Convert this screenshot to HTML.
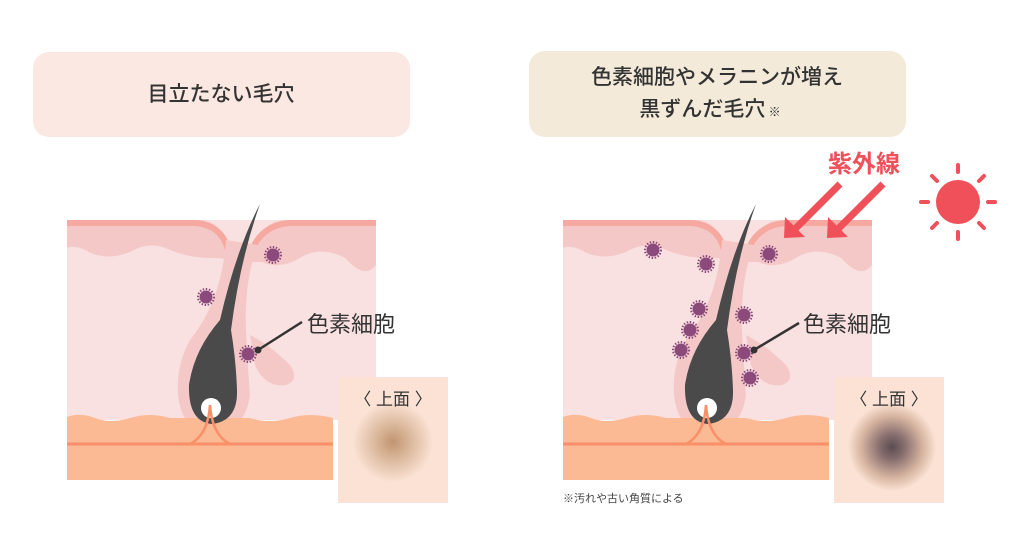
<!DOCTYPE html>
<html><head><meta charset="utf-8"><style>
html,body{margin:0;padding:0;background:#fff;width:1024px;height:534px;overflow:hidden}
svg text{font-family:"Liberation Sans","Noto Sans CJK JP",sans-serif}
</style></head><body>
<svg width="1024" height="534" viewBox="0 0 1024 534" xmlns="http://www.w3.org/2000/svg">
<defs>
<radialGradient id="g1"><stop offset="0" stop-color="#c29470"/><stop offset="0.4" stop-color="#d8b598"/><stop offset="1" stop-color="#fbe2d4"/></radialGradient>
<radialGradient id="g2"><stop offset="0" stop-color="#5a4c50"/><stop offset="0.3" stop-color="#8a7070"/><stop offset="0.7" stop-color="#d6b4a0"/><stop offset="1" stop-color="#fbe2d4"/></radialGradient>
<g id="cell"><circle r="6.5" fill="#8c4a7c"/><circle r="8" fill="none" stroke="#8c4a7c" stroke-width="2" stroke-dasharray="1.5 1.6"/></g>
<g id="skin">
<rect x="67" y="220" width="309" height="200" fill="#f9e1e1"/>
<path d="M67,220 L200,220 Q222,222 226,245 L256,245 Q262,222 285,220 L376,220 L376,265 Q365,280 345,258 Q320,245 300,258 Q280,270 262,262 L245,262 Q230,258 210,258 Q190,258 170,250 Q150,240 130,252 Q105,262 85,250 Q75,245 67,248 Z" fill="#f5c8c8"/>
<path d="M67,223 L195,223 Q222,225 228,250" fill="none" stroke="#f5a9a0" stroke-width="6"/>
<path d="M252,250 Q262,225 290,223 L376,223" fill="none" stroke="#f5a9a0" stroke-width="6"/>
<path d="M226,240 Q222,300 190,340 Q176,365 178,395 Q182,432 212,433 Q245,432 250,395 Q248,370 246,330 Q244,280 258,245 Z" fill="#f5c8c8"/>
<path d="M250,335 Q270,345 290,365 Q300,380 286,385 Q265,388 255,365 Z" fill="#f5c8c8"/>
<path d="M67,417 Q80,412 95,418 Q110,424 130,418 Q150,412 170,418 L250,418 Q270,424 290,418 Q310,412 333,418 L333,480 L67,480 Z" fill="#fbb994"/>
<line x1="67" y1="444" x2="333" y2="444" stroke="#f9906a" stroke-width="3"/>
<path d="M260,204 Q236,250 220,320 Q194,350 189,385 Q188,422 212,424 Q238,421 237,390 Q236,360 231,330 Q240,260 260,204 Z" fill="#4a4a4a"/>
<circle cx="211" cy="408" r="10" fill="#fff"/>
<path d="M190,444 Q208,435 210,405 Q212,435 230,444" fill="none" stroke="#f9906a" stroke-width="2.5"/>
<rect x="338" y="377" width="110" height="126" fill="#fbe2d4"/>
</g>
</defs>
<rect x="33" y="52" width="377" height="85" rx="16" fill="#fce8e2"/>
<text x="221" y="101" font-size="21" text-anchor="middle" fill="#333" font-weight="500">目立たない毛穴</text>
<rect x="529" y="51" width="377" height="86" rx="16" fill="#f3eada"/>
<text x="717" y="84" font-size="21" text-anchor="middle" fill="#333" font-weight="500">色素細胞やメラニンが増え</text>
<text x="710" y="116" font-size="21" text-anchor="middle" fill="#333" font-weight="500">黒ずんだ毛穴<tspan font-size="12"> ※</tspan></text>

<use href="#skin"/>
<circle cx="393" cy="442" r="40" fill="url(#g1)"/>
<text x="393" y="405" font-size="17" text-anchor="middle" fill="#333">〈 上面 〉</text>
<use href="#cell" x="206" y="297"/><use href="#cell" x="273" y="255"/><use href="#cell" x="248" y="354"/>
<line x1="258" y1="350" x2="302" y2="322" stroke="#333" stroke-width="2.5"/><circle cx="258" cy="350" r="3.5" fill="#333"/>
<text x="307" y="332" font-size="22" fill="#333">色素細胞</text>

<use href="#skin" transform="translate(496,0)"/>
<circle cx="892" cy="447" r="44" fill="url(#g2)"/>
<text x="889" y="405" font-size="17" text-anchor="middle" fill="#333">〈 上面 〉</text>
<use href="#cell" x="653" y="250"/><use href="#cell" x="706" y="264"/><use href="#cell" x="699" y="309"/><use href="#cell" x="690" y="330"/><use href="#cell" x="681" y="350"/><use href="#cell" x="744" y="315"/><use href="#cell" x="744" y="353"/><use href="#cell" x="750" y="378"/><use href="#cell" x="769" y="254"/>
<line x1="754" y1="350" x2="799" y2="323" stroke="#333" stroke-width="2.5"/><circle cx="754" cy="350" r="3.5" fill="#333"/>
<text x="803" y="332" font-size="22" fill="#333">色素細胞</text>
<text x="563" y="502" font-size="11" fill="#444">※汚れや古い角質による</text>

<text x="864" y="172" font-size="24" font-weight="bold" text-anchor="middle" fill="#f0505a">紫外線</text>
<g stroke="#f0505a" stroke-width="7"><line x1="840" y1="184" x2="795" y2="229"/><line x1="883" y1="184" x2="838" y2="229"/></g>
<g fill="#f0505a"><polygon points="784,238 785,217 805,237"/><polygon points="827,238 828,217 848,237"/></g>
<circle cx="958" cy="202" r="22" fill="#f0505a"/>
<g stroke="#f0505a" stroke-width="4" stroke-linecap="round">
<line x1="958" y1="165" x2="958" y2="172"/><line x1="958" y1="232" x2="958" y2="239"/>
<line x1="921" y1="202" x2="928" y2="202"/><line x1="988" y1="202" x2="995" y2="202"/>
<line x1="932" y1="176" x2="937" y2="181"/><line x1="979" y1="223" x2="984" y2="228"/>
<line x1="984" y1="176" x2="979" y2="181"/><line x1="932" y1="228" x2="937" y2="223"/>
</g>
</svg>
</body></html>
